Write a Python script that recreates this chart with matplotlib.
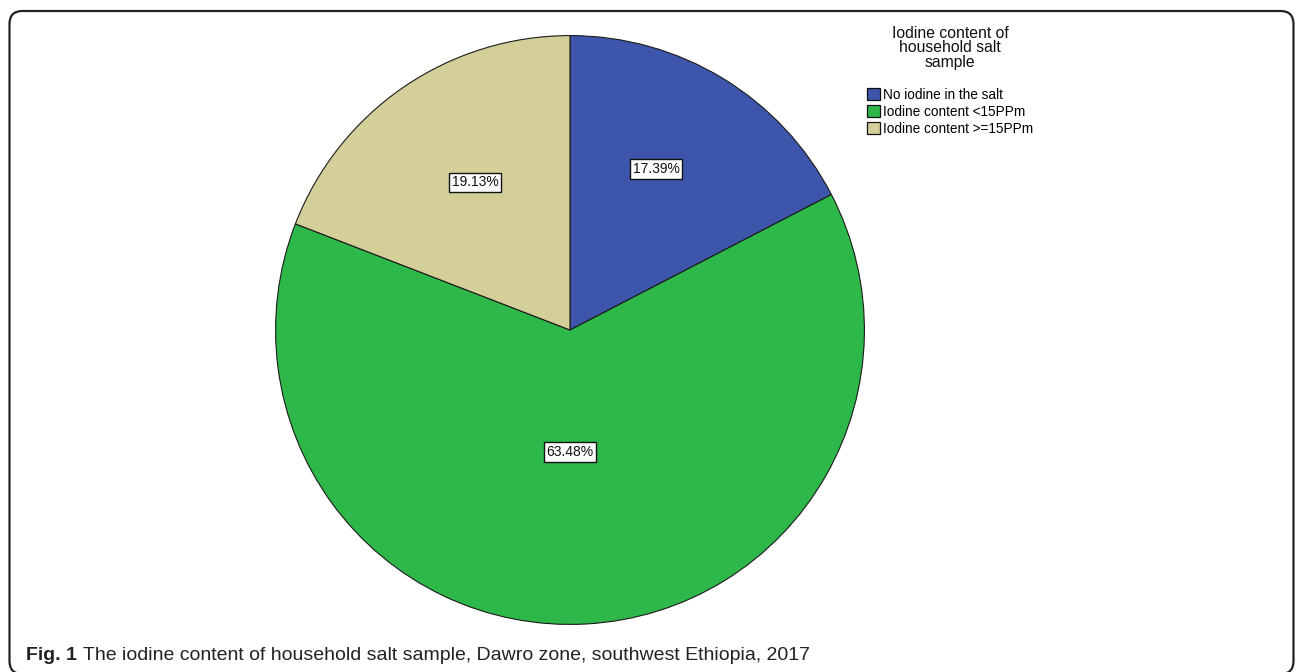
import matplotlib
matplotlib.use('Agg')
from matplotlib import pyplot as plt
from matplotlib.patches import FancyBboxPatch, Patch
import numpy as np

plt.rcParams['font.family'] = ['Liberation Sans', 'DejaVu Sans']

labels = ['No iodine in the salt', 'Iodine content <15PPm', 'Iodine content >=15PPm']
shares = [17.39, 63.48, 19.13]
colors = ['#3d56ab', '#2eb84a', '#d4ce98']
# where SPSS put the percentage boxes (fraction of radius, angle shift in degrees)
label_dist = [0.62, 0.414, 0.596]
label_shift = [3.2, -3.1, -1.7]

W, H = 1296, 672
fig = plt.figure(figsize=(W / 100, H / 100), dpi=100)

# rounded frame, bottom edge runs off the page like in the journal figure
frame = FancyBboxPatch((9.5, -2), 1284, H - 11 + 2,
                       boxstyle='round,pad=0,rounding_size=13',
                       transform=None, fill=False,
                       edgecolor='#222222', linewidth=1.6)
fig.patches.append(frame)

cx, cy, r = 570, H - 330, 295
ax = fig.add_axes([(cx - r) / W, (cy - r) / H, 2 * r / W, 2 * r / H])

wedges, _ = ax.pie(shares, colors=colors, startangle=90, counterclock=False,
                   wedgeprops=dict(edgecolor='#1a1a1a', linewidth=0.8))
ax.set_xlim(-1.002, 1.002)
ax.set_ylim(-1.002, 1.002)
ax.set_aspect('equal')
ax.axis('off')

for w, s, d, sh in zip(wedges, shares, label_dist, label_shift):
    ang = np.deg2rad((w.theta1 + w.theta2) / 2 + sh)
    ax.text(d * np.cos(ang), d * np.sin(ang), f'{s:.2f}%', ha='center', va='center',
            fontsize=10, color='#111111',
            bbox=dict(boxstyle='square,pad=0.2', facecolor='white', edgecolor='#111111', linewidth=1.0))

# legend title drawn on its own, SPSS style
fig.text(950 / W, 1 - 48 / H, 'Iodine content of\nhousehold salt\nsample',
         ha='center', va='center', fontsize=11.3, linespacing=0.95, color='#111111')

handles = [Patch(facecolor=c, edgecolor='#111111', linewidth=0.9) for c in colors]
leg = fig.legend(handles, labels, loc='upper left',
                 bbox_to_anchor=(867 / W, 1 - 88 / H),
                 frameon=False, fontsize=9.8,
                 handlelength=0.95, handleheight=0.95, handletextpad=0.25,
                 labelspacing=0.22, borderaxespad=0, borderpad=0)

cap_y = 1 - 660 / H
fig.text(26 / W, cap_y, 'Fig. 1', fontsize=14, fontweight='bold',
         color='#222222', va='baseline', ha='left')
fig.text(83 / W, cap_y,
         'The iodine content of household salt sample, Dawro zone, southwest Ethiopia, 2017',
         fontsize=14, color='#222222', va='baseline', ha='left')

fig.savefig('out.png', dpi=100)
